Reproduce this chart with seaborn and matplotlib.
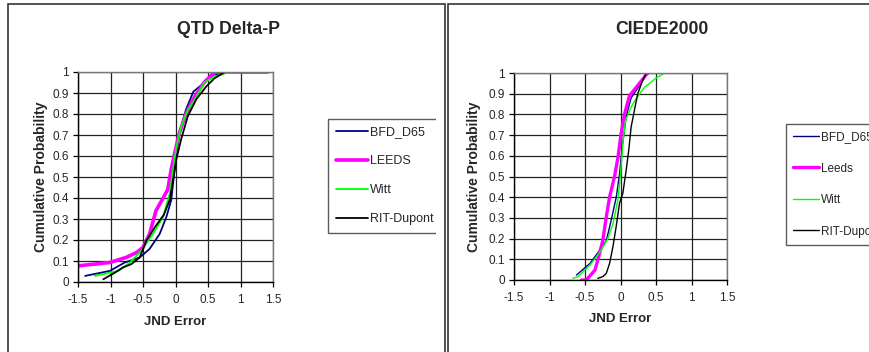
import numpy as np
import pandas as pd
import matplotlib
matplotlib.use("Agg")
import matplotlib.pyplot as plt
import seaborn as sns
from matplotlib.patches import Rectangle

# ---- data (JND error, cumulative probability) ----
# QTD Delta-P panel
qtd_bfd_x = [-1.39, -1.01, -0.78, -0.55, -0.40, -0.245, -0.14, -0.066, -0.015, 0.06, 0.16, 0.274, 0.43, 0.58, 0.78, 1.0]
qtd_bfd_y = [0.029, 0.053, 0.093, 0.117, 0.157, 0.228, 0.31, 0.39, 0.53, 0.71, 0.82, 0.906, 0.946, 0.986, 1.0, 1.0]
qtd_leeds_x = [-1.5, -1.01, -0.76, -0.60, -0.50, -0.40, -0.30, -0.19, -0.12, -0.07, -0.015, 0.06, 0.16, 0.29, 0.44, 0.57, 0.62, 1.42]
qtd_leeds_y = [0.077, 0.093, 0.117, 0.14, 0.165, 0.228, 0.34, 0.40, 0.44, 0.53, 0.61, 0.71, 0.80, 0.88, 0.95, 0.99, 1.0, 1.0]
qtd_witt_x = [-1.24, -0.88, -0.70, -0.525, -0.35, -0.19, -0.09, -0.04, 0.01, 0.087, 0.19, 0.32, 0.44, 0.62, 0.78, 0.99]
qtd_witt_y = [0.029, 0.053, 0.093, 0.149, 0.228, 0.31, 0.42, 0.53, 0.64, 0.74, 0.82, 0.88, 0.95, 0.98, 0.995, 1.0]
qtd_rit_x = [-1.11, -0.93, -0.81, -0.68, -0.55, -0.45, -0.32, -0.18, -0.09, -0.04, 0.01, 0.087, 0.19, 0.32, 0.47, 0.60, 0.76]
qtd_rit_y = [0.013, 0.045, 0.069, 0.085, 0.117, 0.196, 0.26, 0.32, 0.39, 0.48, 0.58, 0.68, 0.79, 0.87, 0.93, 0.97, 1.0]

# CIEDE2000 panel
de_bfd_x = [-0.62, -0.43, -0.29, -0.20, -0.13, -0.06, -0.014, 0.023, 0.08, 0.15, 0.27, 0.36, 0.41, 0.49]
de_bfd_y = [0.024, 0.08, 0.145, 0.19, 0.29, 0.40, 0.51, 0.64, 0.79, 0.88, 0.94, 0.99, 1.0, 1.0]
de_leeds_x = [-0.55, -0.48, -0.36, -0.32, -0.25, -0.20, -0.154, -0.084, -0.037, 0.01, 0.056, 0.126, 0.243, 0.336, 0.38]
de_leeds_y = [0.0, 0.0, 0.048, 0.096, 0.19, 0.305, 0.40, 0.50, 0.59, 0.71, 0.80, 0.89, 0.94, 0.98, 1.0]
de_witt_x = [-0.67, -0.60, -0.43, -0.27, -0.18, -0.107, -0.037, 0.0, 0.033, 0.07, 0.15, 0.22, 0.336, 0.50, 0.62]
de_witt_y = [0.008, 0.016, 0.072, 0.145, 0.20, 0.27, 0.386, 0.51, 0.66, 0.77, 0.836, 0.876, 0.93, 0.975, 1.0]
de_rit_x = [-0.32, -0.25, -0.20, -0.154, -0.107, -0.06, -0.014, 0.033, 0.08, 0.117, 0.15, 0.196, 0.243, 0.313, 0.36, 0.43]
de_rit_y = [0.008, 0.016, 0.032, 0.08, 0.16, 0.26, 0.37, 0.42, 0.53, 0.63, 0.74, 0.82, 0.90, 0.965, 0.997, 1.0]

qtd_labels = ["BFD_D65", "LEEDS", "Witt", "RIT-Dupont"]
de_labels = ["BFD_D65", "Leeds", "Witt", "RIT-Dupont"]
colors = ["#000080", "#ff00ff", "#00ff00", "#000000"]

x_ticks = [-1.5, -1, -0.5, 0, 0.5, 1, 1.5]
x_ticklabels = ["-1.5", "-1", "-0.5", "0", "0.5", "1", "1.5"]
y_ticks = [0, 0.1, 0.2, 0.3, 0.4, 0.5, 0.6, 0.7, 0.8, 0.9, 1]
y_ticklabels = ["0", "0.1", "0.2", "0.3", "0.4", "0.5", "0.6", "0.7", "0.8", "0.9", "1"]

sns.set_style("white")
plt.rcParams["font.family"] = ["Liberation Sans", "DejaVu Sans"]

W, H = 869, 352
fig = plt.figure(figsize=(W / 100, H / 100), dpi=100)


def px_box(left, top, right, bottom):
    return [left / W, 1 - bottom / H, (right - left) / W, (bottom - top) / H]


def draw_panel(ax, series, labels, widths, title, title_x, legend_pos, legend_fs, legend_spacing, handle_len):
    for (xs, ys), lab, col, lw in zip(series, labels, colors, widths):
        df = pd.DataFrame({"x": xs, "y": ys})
        sns.lineplot(data=df, x="x", y="y", ax=ax, color=col, lw=lw, label=lab,
                     sort=False, estimator=None)
    ax.set_xlim(-1.5, 1.5)
    ax.set_ylim(0, 1)
    ax.set_xticks(x_ticks)
    ax.set_xticklabels(x_ticklabels)
    ax.set_yticks(y_ticks)
    ax.set_yticklabels(y_ticklabels)
    ax.grid(True, color="#222222", lw=0.9)
    ax.set_axisbelow(True)
    ax.tick_params(axis="both", labelsize=8.5, length=3.5, width=0.9, color="black",
                   direction="out", bottom=True, left=True, pad=3)
    ax.tick_params(axis="x", pad=5)
    for side in ["top", "right"]:
        ax.spines[side].set_color("#777777")
        ax.spines[side].set_linewidth(1.0)
    for side in ["left", "bottom"]:
        ax.spines[side].set_color("black")
        ax.spines[side].set_linewidth(1.0)
    ax.set_xlabel("JND Error", fontsize=9.5, fontweight="bold")
    ax.set_ylabel("Cumulative Probability", fontsize=10, fontweight="bold")
    ax.xaxis.set_label_coords(0.5, -0.19)
    ax.xaxis.label.set_va("center")
    ax.yaxis.set_label_coords(-0.19, 0.5)
    ax.yaxis.label.set_va("center")
    fig.text(title_x / W, 1 - 30 / H, title, fontsize=12.7, fontweight="bold",
             ha="center", va="center")
    leg = ax.legend(loc="upper left", bbox_to_anchor=(legend_pos[0] / W, 1 - legend_pos[1] / H),
                    bbox_transform=fig.transFigure, fontsize=legend_fs, frameon=True,
                    fancybox=False, borderaxespad=0, borderpad=0.6,
                    labelspacing=legend_spacing, handlelength=handle_len, handletextpad=0.15)
    leg.get_frame().set_edgecolor("#333333")
    leg.get_frame().set_linewidth(1.0)
    return leg


ax1 = fig.add_axes(px_box(78, 72, 273, 282))
draw_panel(ax1,
           [(qtd_bfd_x, qtd_bfd_y), (qtd_leeds_x, qtd_leeds_y), (qtd_witt_x, qtd_witt_y), (qtd_rit_x, qtd_rit_y)],
           qtd_labels, [1.3, 2.6, 1.3, 1.3], "QTD Delta-P", 228, (328, 119), 9, 1.35, 2.6)

ax2 = fig.add_axes(px_box(514, 73, 727, 280))
draw_panel(ax2,
           [(de_bfd_x, de_bfd_y), (de_leeds_x, de_leeds_y), (de_witt_x, de_witt_y), (de_rit_x, de_rit_y)],
           de_labels, [1.0, 2.4, 1.0, 1.0], "CIEDE2000", 662, (786, 124), 8.5, 1.65, 2.2)

# mask so the left legend is cut off like in the original
fig.add_artist(Rectangle((436 / W, 0), 9 / W, 1, transform=fig.transFigure,
                         facecolor="white", edgecolor="none", zorder=5))
# panel frames
fig.add_artist(Rectangle((8 / W, -0.1), 437 / W, 1.1 - 4 / H, transform=fig.transFigure,
                         facecolor="none", edgecolor="#333333", lw=1.2, zorder=6))
fig.add_artist(Rectangle((448 / W, -0.1), 0.6, 1.1 - 4 / H, transform=fig.transFigure,
                         facecolor="none", edgecolor="#333333", lw=1.2, zorder=6))

fig.savefig("out.png", dpi=100)
